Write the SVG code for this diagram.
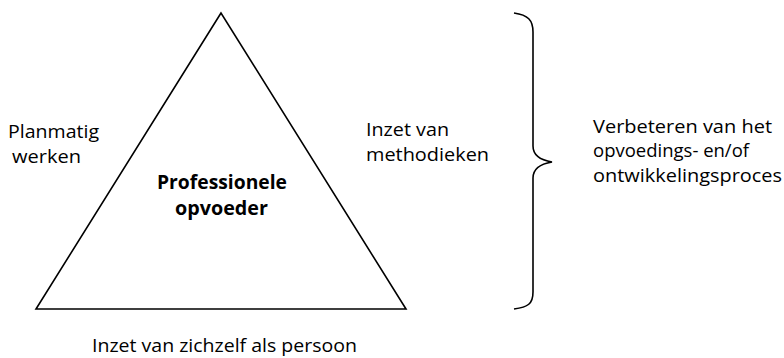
<svg xmlns="http://www.w3.org/2000/svg" width="784" height="358" viewBox="0 0 784 358">
<style>
.t{font-family:"Open Sans",Lato,sans-serif;font-size:19px;fill:#000}
.b{font-weight:bold}
.ln{fill:none;stroke:#000;stroke-width:1.6;stroke-linejoin:miter}
</style>
<rect width="784" height="358" fill="#fff"/>
<g id="triangle">
<polygon class="ln" points="221,13 36,309 406,309"/>
<text class="t b" x="157" y="189" textLength="130" lengthAdjust="spacingAndGlyphs">Professionele</text>
<text class="t b" x="175" y="215" textLength="93" lengthAdjust="spacingAndGlyphs">opvoeder</text>
</g>
<g id="left-label">
<text class="t" x="8" y="138" textLength="91" lengthAdjust="spacingAndGlyphs">Planmatig</text>
<text class="t" x="12" y="163" textLength="69" lengthAdjust="spacingAndGlyphs">werken</text>
</g>
<g id="right-label">
<text class="t" x="366" y="136" textLength="83" lengthAdjust="spacingAndGlyphs">Inzet van</text>
<text class="t" x="366" y="161" textLength="123" lengthAdjust="spacingAndGlyphs">methodieken</text>
</g>
<g id="bottom-label">
<text class="t" x="92" y="352" textLength="265" lengthAdjust="spacingAndGlyphs">Inzet van zichzelf als persoon</text>
</g>
<g id="connectors">
<path class="ln" stroke-width="2" d="M514,13 C528,15 533,20 533,32 L533,146 C533,155 540,160 552,162 C540,164 533,169 533,178 L533,292 C533,304 528,307 514,309"/>
</g>
<g id="result">
<text class="t" x="593" y="133" textLength="179" lengthAdjust="spacingAndGlyphs">Verbeteren van het</text>
<text class="t" x="593" y="157" textLength="156" lengthAdjust="spacingAndGlyphs">opvoedings- en/of</text>
<text class="t" x="593" y="182" textLength="189" lengthAdjust="spacingAndGlyphs">ontwikkelingsproces</text>
</g>
</svg>
